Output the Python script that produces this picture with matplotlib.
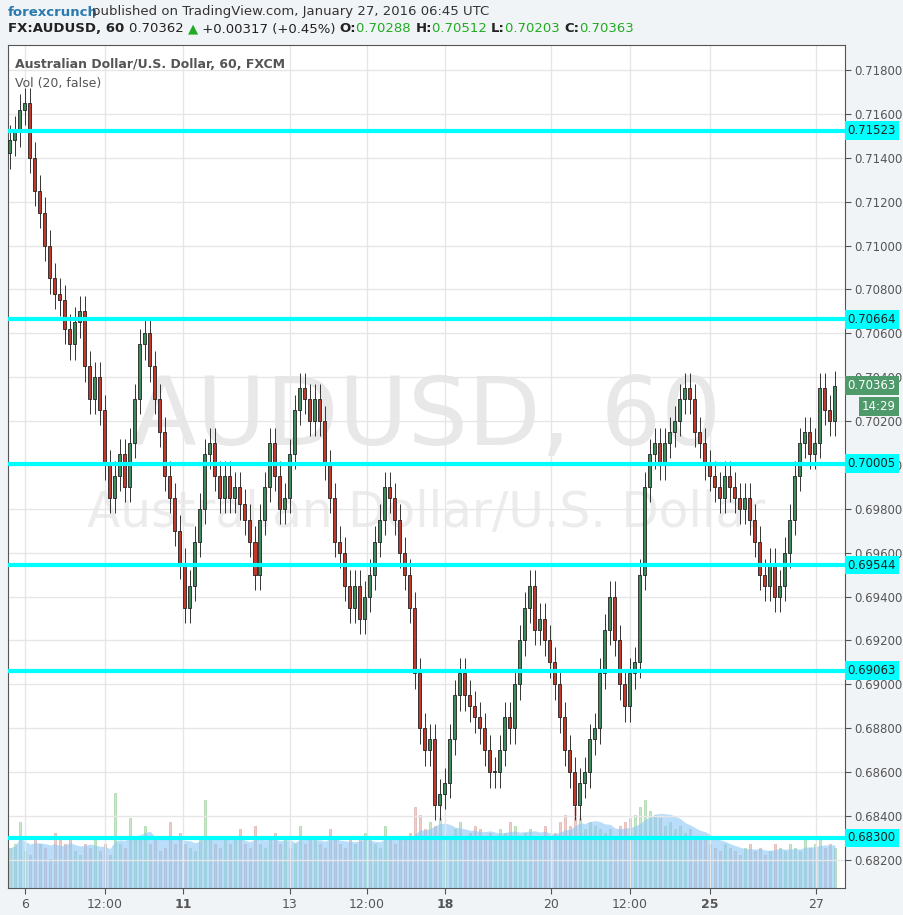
import matplotlib.pyplot as plt
import numpy as np
import pandas as pd

# hourly-ish closes (one per candle)
closes = [0.7148, 0.7152, 0.7162, 0.7165, 0.7140, 0.7125, 0.7115, 0.7100, 0.7085, 0.7078,
          0.7075, 0.7062, 0.7055, 0.7065, 0.7070, 0.7045, 0.7030, 0.7040, 0.7025, 0.7000,
          0.6985, 0.6995, 0.7005, 0.6990, 0.7010, 0.7030, 0.7055, 0.7060, 0.7045, 0.7030,
          0.7015, 0.6995, 0.6985, 0.6970, 0.6955, 0.6935, 0.6945, 0.6965, 0.6980, 0.7005,
          0.7010, 0.6995, 0.6985, 0.6995, 0.6985, 0.6990, 0.6982, 0.6975, 0.6965, 0.6950,
          0.6975, 0.6990, 0.7010, 0.6995, 0.6980, 0.6985, 0.7005, 0.7025, 0.7035, 0.7030,
          0.7020, 0.7030, 0.7020, 0.7000, 0.6985, 0.6965, 0.6960, 0.6945, 0.6935, 0.6945,
          0.6930, 0.6940, 0.6950, 0.6965, 0.6975, 0.6990, 0.6985, 0.6975, 0.6960, 0.6950,
          0.6935, 0.6905, 0.6880, 0.6870, 0.6875, 0.6845, 0.6850, 0.6855, 0.6875, 0.6895,
          0.6905, 0.6895, 0.6890, 0.6885, 0.6880, 0.6870, 0.6860, 0.6860, 0.6870, 0.6885,
          0.6880, 0.6900, 0.6920, 0.6935, 0.6945, 0.6925, 0.6930, 0.6920, 0.6910, 0.6900,
          0.6885, 0.6870, 0.6860, 0.6845, 0.6855, 0.6860, 0.6875, 0.6880, 0.6905, 0.6925,
          0.6940, 0.6920, 0.6900, 0.6890, 0.6905, 0.6910, 0.6950, 0.6990, 0.7005, 0.7010,
          0.7000, 0.7010, 0.7015, 0.7020, 0.7030, 0.7035, 0.7030, 0.7015, 0.7010, 0.7000,
          0.6995, 0.6990, 0.6985, 0.6995, 0.6990, 0.6985, 0.6980, 0.6985, 0.6975, 0.6965,
          0.6950, 0.6945, 0.6955, 0.6940, 0.6945, 0.6960, 0.6975, 0.6995, 0.7010, 0.7015,
          0.7005, 0.7010, 0.7035, 0.7025, 0.7020, 0.7036]
first_open = 0.7142

volumes = [55, 60, 90, 50, 45, 70, 60, 55, 40, 75, 65, 60, 70, 50, 45, 60, 55, 65, 50, 60,
           45, 130, 60, 55, 95, 70, 65, 85, 60, 70, 50, 55, 90, 60, 75, 60, 55, 50, 65, 120,
           70, 60, 55, 65, 60, 70, 80, 60, 55, 85, 60, 55, 65, 75, 60, 70, 55, 60, 85, 60,
           70, 65, 60, 55, 80, 70, 60, 55, 65, 60, 70, 75, 65, 60, 55, 85, 70, 60, 65, 70,
           75, 110, 100, 80, 90, 85, 95, 70, 65, 80, 90, 70, 75, 85, 80, 70, 75, 65, 80, 75,
           90, 85, 70, 75, 80, 70, 65, 85, 70, 75, 90, 100, 85, 110, 95, 80, 90, 85, 80, 75,
           80, 70, 85, 90, 95, 100, 110, 120, 105, 100, 95, 85, 90, 80, 85, 75, 80, 70, 65, 70,
           60, 55, 50, 60, 55, 50, 45, 55, 60, 50, 55, 45, 50, 60, 55, 50, 60, 55, 50, 65,
           55, 60, 70, 55, 60, 55]

levels = [0.71523, 0.70664, 0.70005, 0.69544, 0.69063, 0.68300]

n = min(len(closes), len(volumes))
closes = np.array(closes[:n])
opens = np.concatenate([[first_open], closes[:-1]])
highs = np.maximum(opens, closes) + 0.0007
lows = np.minimum(opens, closes) - 0.0007
vol = np.array(volumes[:n])
vol_ma = pd.Series(vol).rolling(8, min_periods=1).mean().values

tick_pos = [3, 19, 34.6, 56, 71.4, 87, 108.2, 124, 140, 161.2]
tick_lab = ["6", "12:00", "11", "13", "12:00", "18", "20", "12:00", "25", "27"]
bold = {"11", "18", "25"}

fig = plt.figure(figsize=(9.04, 9.15), dpi=100)
fig.patch.set_facecolor("#f1f4f7")
ax = fig.add_axes([8 / 904, 1 - 888 / 915, 837 / 904, 843 / 915])

# volume panel on a twin axis, drawn behind the price axis
vax = ax.twinx()
vax.set_ylim(0, 1150)
vax.set_yticks([])
for s in vax.spines.values():
    s.set_visible(False)
vax.set_facecolor("white")
vax.patch.set_visible(True)
ax.set_zorder(vax.get_zorder() + 1)
ax.patch.set_visible(False)

xmin, xmax = -0.4, 167
ax.set_xlim(xmin, xmax)
ax.set_ylim(0.68072, 0.71914)
ax.set_yticks(np.arange(0.682, 0.7181, 0.002))
ax.set_xticks(tick_pos)
ax.grid(color="#e6e6e6", linewidth=1)
ax.tick_params(axis="y", length=4, labelsize=8.5, colors="#555555", pad=3,
               left=False, labelleft=False, right=True, labelright=True)
ax.tick_params(axis="x", length=4, labelsize=9, colors="#555555")
ax.set_yticklabels([f"{v:.5f}" for v in ax.get_yticks()])
ax.set_xticklabels(tick_lab)
for t in ax.get_xticklabels():
    if t.get_text() in bold:
        t.set_fontweight("bold")
for s in ax.spines.values():
    s.set_color("#555555")

# watermark
vax.text(0.5, 0.556, "AUDUSD, 60", transform=ax.transAxes, ha="center", va="center",
         fontsize=68, color="#e8e8e8", zorder=0)
vax.text(0.5, 0.445, "Australian Dollar/U.S. Dollar", transform=ax.transAxes, ha="center",
         va="center", fontsize=35, color="#ececec", zorder=0)

x = np.arange(n)
up = closes >= opens
vax.bar(x, vol, width=0.45, color=np.where(up, "#c8e6c9", "#efcdcb"),
        edgecolor=np.where(up, "#a5d6a7", "#e0b0ac"), linewidth=0.5, zorder=1)
vax.fill_between(x, 0, vol_ma, color="#8cc8f5", alpha=0.6, zorder=2, linewidth=0)

# candles
for i in range(n):
    c = "#3d8a5a" if up[i] else "#c0392b"
    ax.vlines(i, lows[i], highs[i], color="#333333", linewidth=0.7, zorder=3)
    ax.bar(i, abs(closes[i] - opens[i]) or 0.00003, bottom=min(opens[i], closes[i]),
           width=0.6, color=c, edgecolor="#222222", linewidth=0.6, zorder=4)

trans = ax.get_yaxis_transform()
for lv in levels:
    ax.axhline(lv, color="#00ffff", linewidth=3, zorder=5)
    ax.text(1.003, lv, f"{lv:.5f}", transform=trans, ha="left", va="center", fontsize=8.5,
            color="#222222", bbox=dict(boxstyle="square,pad=0.25", fc="#00ffff", ec="none"),
            clip_on=False, zorder=6)
ax.text(1.003, 0.70363, "0.70363", transform=trans, ha="left", va="center", fontsize=8.5,
        color="white", bbox=dict(boxstyle="square,pad=0.25", fc="#4e9a6a", ec="none"),
        clip_on=False, zorder=6)
ax.text(1.02, 0.70268, "14:29", transform=trans, ha="left", va="center", fontsize=8.5,
        color="white", bbox=dict(boxstyle="square,pad=0.25", fc="#4e9a6a", ec="none"),
        clip_on=False, zorder=6)

ax.text(0.008, 0.985, "Australian Dollar/U.S. Dollar, 60, FXCM", transform=ax.transAxes,
        fontsize=9, fontweight="bold", color="#555555", va="top")
ax.text(0.008, 0.962, "Vol (20, false)", transform=ax.transAxes, fontsize=9,
        color="#555555", va="top")

# header
fig.text(8 / 904, 1 - 12 / 915, "forexcrunch", fontsize=9.5, fontweight="bold",
         color="#2a7ab0", va="center")
fig.text(92 / 904, 1 - 12 / 915, "published on TradingView.com, January 27, 2016 06:45 UTC",
         fontsize=9.5, color="#333333", va="center")
parts = [("FX:AUDUSD, 60 ", "#222222", "bold"), ("0.70362 ", "#222222", "normal"),
         ("\u25B2", "#22aa22", "normal"), (" +0.00317 (+0.45%) ", "#222222", "normal"),
         ("O:", "#222222", "bold"), ("0.70288 ", "#22aa22", "normal"),
         ("H:", "#222222", "bold"), ("0.70512 ", "#22aa22", "normal"),
         ("L:", "#222222", "bold"), ("0.70203 ", "#22aa22", "normal"),
         ("C:", "#222222", "bold"), ("0.70363", "#22aa22", "normal")]
fig.canvas.draw()
r = fig.canvas.get_renderer()
xpos = 8 / 904
for txt, col, w in parts:
    t = fig.text(xpos, 1 - 29 / 915, txt, fontsize=9.5, color=col, fontweight=w, va="center")
    bb = t.get_window_extent(renderer=r)
    xpos += bb.width / fig.bbox.width

fig.savefig("out.png", dpi=100, facecolor=fig.get_facecolor())
